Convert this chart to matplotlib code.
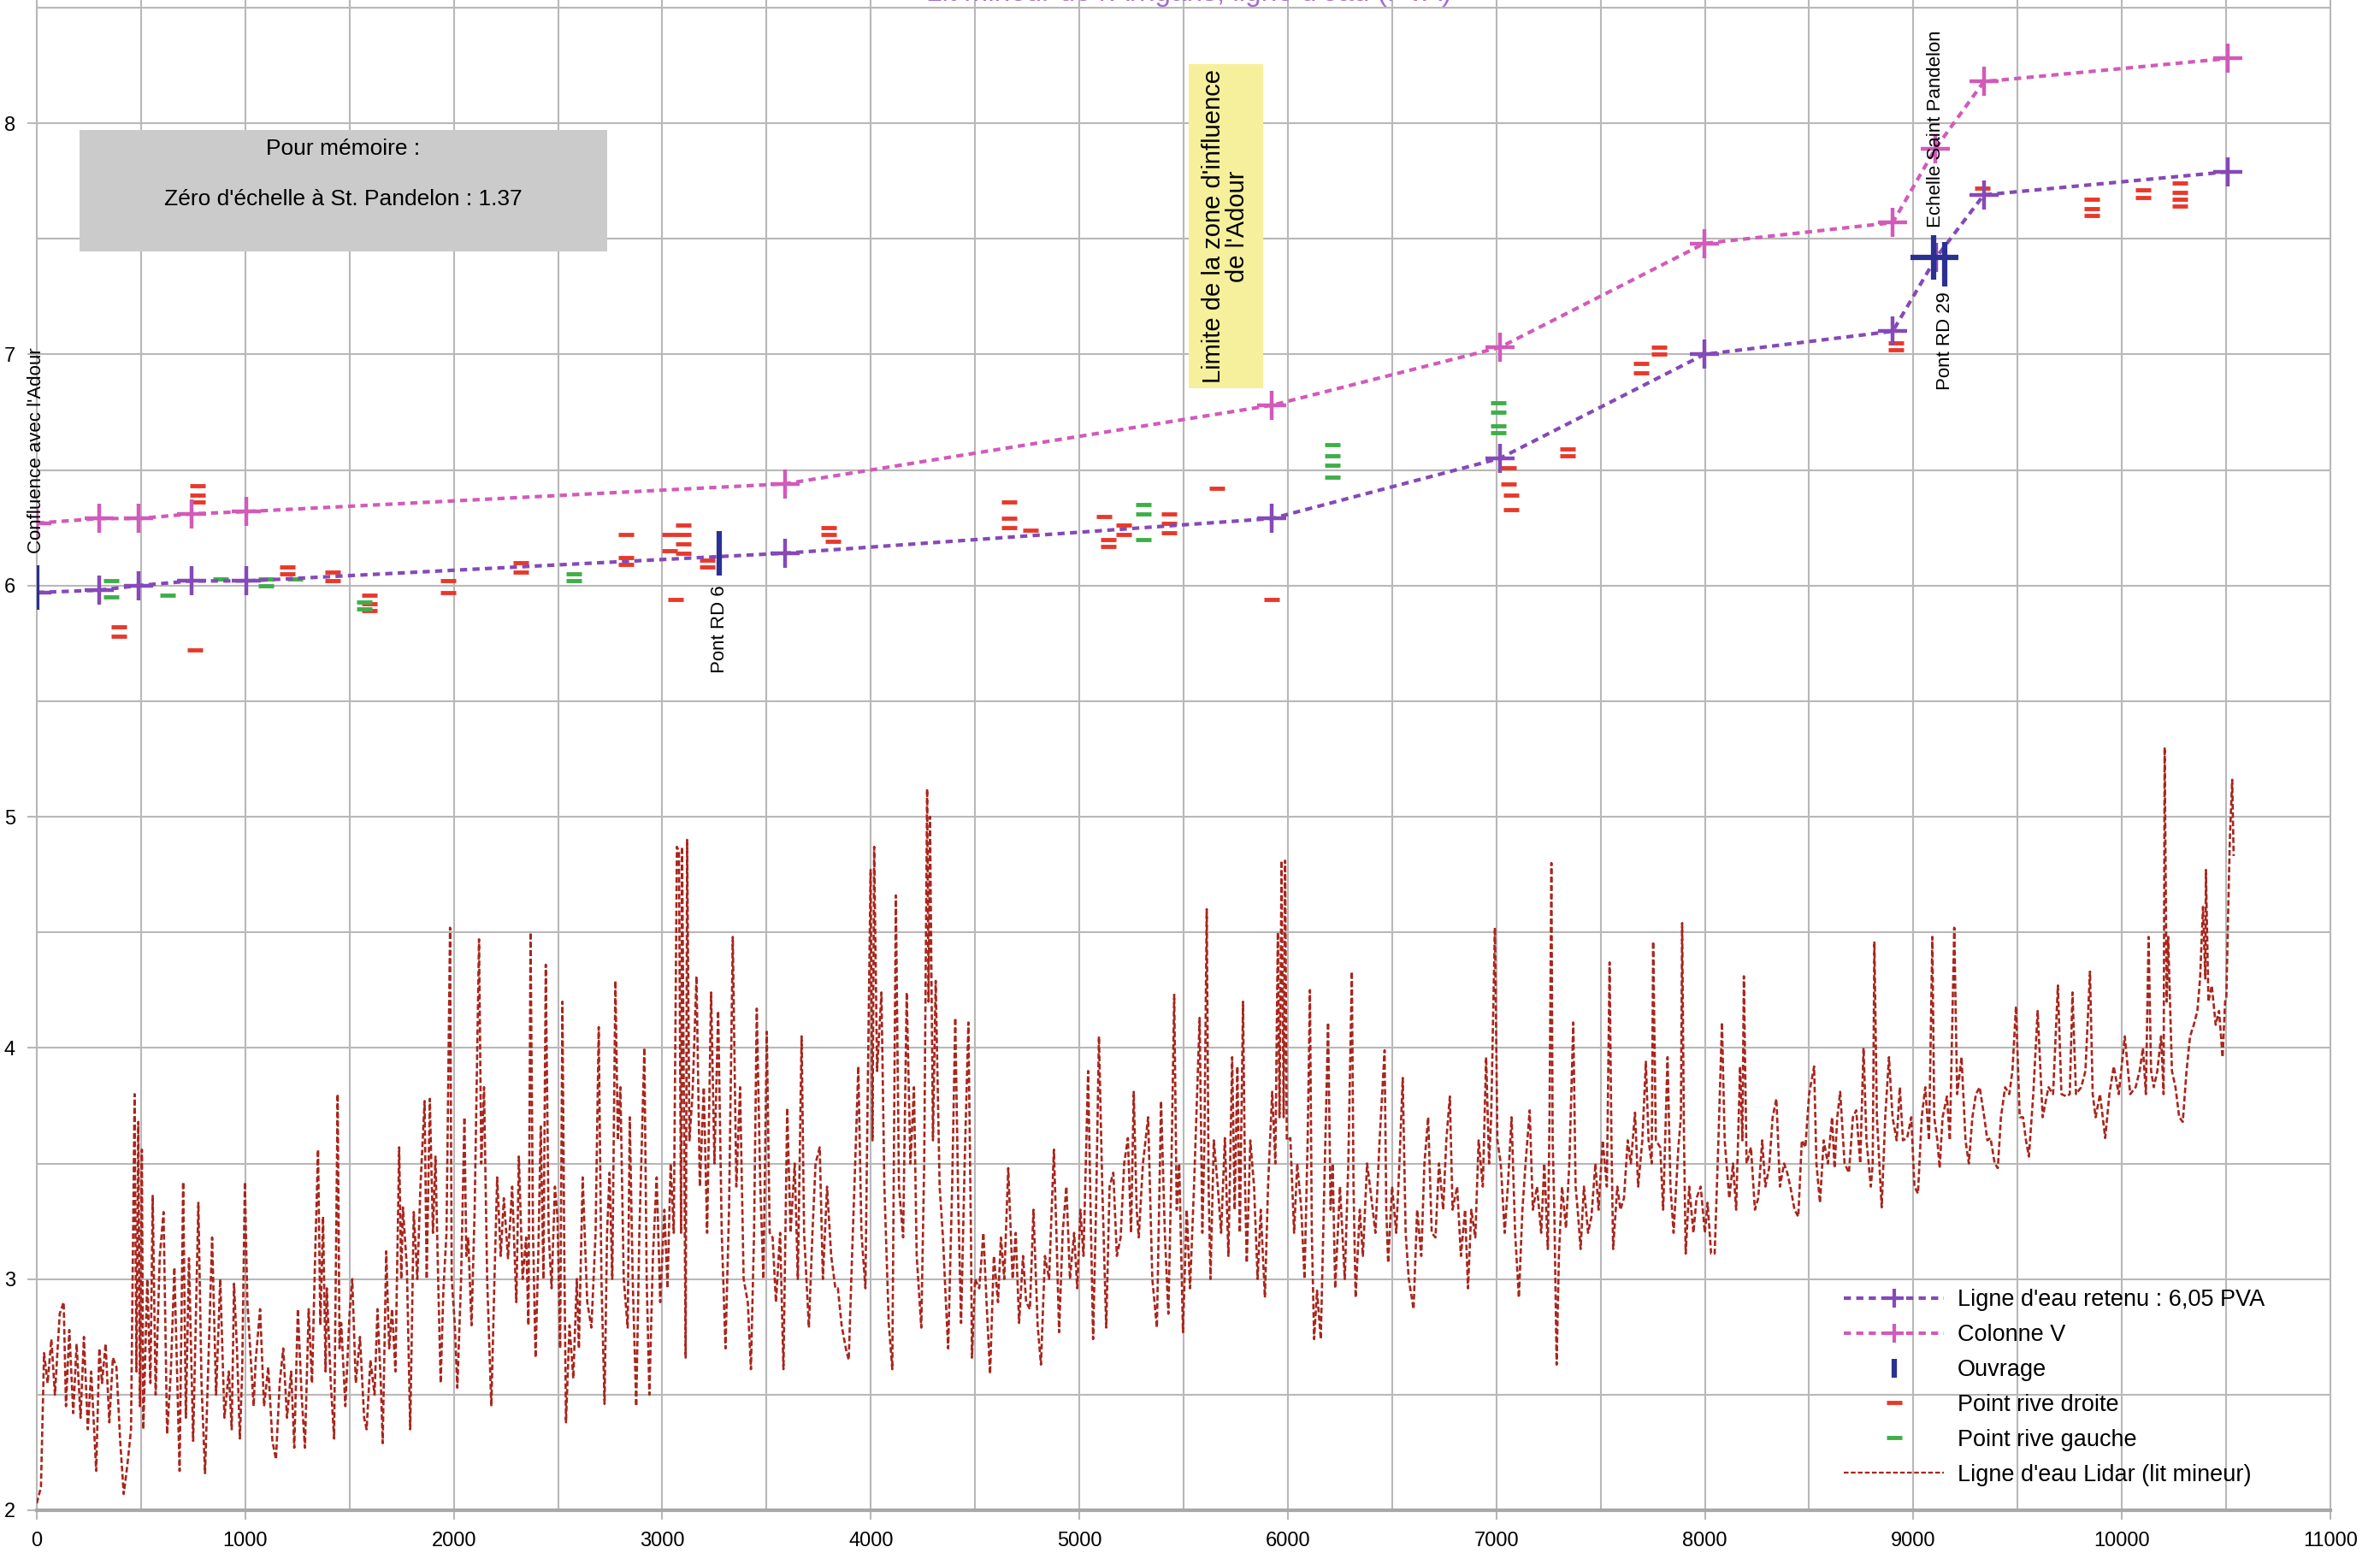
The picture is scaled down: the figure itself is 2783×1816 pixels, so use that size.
import matplotlib.pyplot as plt
from matplotlib.lines import Line2D
from matplotlib.patches import Rectangle
from matplotlib.ticker import MultipleLocator

plt.rcParams['font.family'] = ['Liberation Sans', 'DejaVu Sans']

# ligne d'eau retenue et colonne V
ret_x = [0, 298, 488, 742, 1004, 3588, 5924, 7016, 7998, 8901, 9110, 9338, 10509]
ret_y = [5.97, 5.98, 6.00, 6.02, 6.02, 6.14, 6.29, 6.55, 7.00, 7.10, 7.42, 7.69, 7.79]
colv_x = [0, 298, 488, 742, 1004, 3588, 5924, 7016, 7998, 8901, 9105, 9338, 10509]
colv_y = [6.27, 6.29, 6.29, 6.31, 6.32, 6.44, 6.78, 7.03, 7.48, 7.57, 7.89, 8.18, 8.28]

# ouvrages
ouv_x = [0, 3273, 9098, 9151]
ouv_y = [5.99, 6.14, 7.42, 7.39]
echelle_x = [9102]
echelle_y = [7.42]

# points rive droite / rive gauche
rd_x = [393, 393, 757, 771, 771, 771, 1200, 1200, 1419, 1419, 1594, 1594, 1594,
        1972, 1972, 2322, 2322, 2824, 2824, 2824, 3035, 3035, 3064, 3100, 3100,
        3100, 3100, 3217, 3217, 3799, 3799, 3820, 4665, 4665, 4665, 4767, 5120,
        5140, 5140, 5211, 5211, 5429, 5429, 5429, 5662, 5924, 7060, 7060, 7070,
        7070, 7343, 7343, 7693, 7693, 7780, 7780, 8916, 8916, 9330, 9855, 9855,
        9855, 10102, 10102, 10277, 10277, 10277, 10277]
rd_y = [5.82, 5.78, 5.72, 6.43, 6.39, 6.36, 6.08, 6.05, 6.06, 6.02, 5.96, 5.92, 5.89,
        6.02, 5.97, 6.10, 6.06, 6.22, 6.12, 6.09, 6.22, 6.15, 5.94, 6.26, 6.22,
        6.18, 6.14, 6.11, 6.08, 6.25, 6.22, 6.19, 6.36, 6.29, 6.25, 6.24, 6.30,
        6.20, 6.17, 6.26, 6.22, 6.31, 6.27, 6.23, 6.42, 5.94, 6.51, 6.44, 6.39,
        6.33, 6.59, 6.56, 6.96, 6.92, 7.03, 7.00, 7.05, 7.02, 7.72, 7.67, 7.63,
        7.60, 7.71, 7.68, 7.74, 7.70, 7.67, 7.64]
rg_x = [357, 357, 626, 881, 1099, 1099, 1237, 1572, 1572, 2576, 2576, 5306, 5306,
        5306, 6215, 6215, 6215, 6215, 7009, 7009, 7009, 7009]
rg_y = [6.02, 5.95, 5.96, 6.03, 6.03, 6.00, 6.03, 5.93, 5.90, 6.05, 6.02, 6.35, 6.31,
        6.20, 6.61, 6.56, 6.52, 6.47, 6.79, 6.75, 6.69, 6.66]

# ligne d'eau Lidar (lit mineur)
lidar = [
    (0, 2.03), (20, 2.10), (35, 2.68), (52, 2.55), (70, 2.74), (87, 2.50), (110, 2.85),
    (129, 2.90), (140, 2.45), (156, 2.78), (175, 2.42), (191, 2.72), (210, 2.40),
    (226, 2.75), (245, 2.35), (261, 2.60), (285, 2.17), (300, 2.70), (313, 2.55),
    (330, 2.72), (348, 2.38), (365, 2.66), (382, 2.62), (400, 2.30), (417, 2.07),
    (435, 2.20), (452, 2.35), (469, 3.80), (478, 2.60), (487, 3.68), (495, 2.45),
    (504, 3.56), (511, 2.35), (530, 3.00), (545, 2.55), (556, 3.36), (570, 2.50),
    (590, 3.10), (608, 3.29), (625, 2.33), (643, 2.60), (660, 3.05), (685, 2.17),
    (702, 3.42), (715, 2.40), (730, 3.09), (750, 2.30), (775, 3.33), (790, 2.55),
    (807, 2.16), (825, 2.70), (841, 3.18), (860, 2.50), (880, 3.00), (900, 2.40),
    (921, 2.60), (935, 2.35), (946, 2.98), (960, 2.70), (974, 2.31), (985, 2.60),
    (998, 3.42), (1010, 2.90), (1026, 2.66), (1040, 2.45), (1050, 2.65), (1071, 2.87),
    (1090, 2.45), (1110, 2.62), (1130, 2.30), (1147, 2.22), (1165, 2.55), (1182, 2.70),
    (1200, 2.40), (1220, 2.60), (1235, 2.27), (1252, 2.87), (1270, 2.50), (1286, 2.27),
    (1304, 2.87), (1320, 2.55), (1335, 3.10), (1349, 3.56), (1360, 2.80), (1373, 3.27),
    (1385, 2.60), (1391, 2.96), (1410, 2.55), (1426, 2.31), (1443, 3.80), (1452, 2.70),
    (1460, 2.81), (1480, 2.45), (1500, 2.85), (1513, 3.00), (1530, 2.55), (1550, 2.75),
    (1570, 2.40), (1582, 2.35), (1600, 2.65), (1620, 2.50), (1634, 2.87), (1650, 2.55),
    (1659, 2.29), (1676, 3.12), (1690, 2.70), (1704, 2.87), (1720, 2.60), (1738, 3.57),
    (1748, 3.00), (1756, 3.31), (1775, 3.05), (1791, 2.35), (1808, 3.29), (1825, 3.00),
    (1840, 3.40), (1860, 3.77), (1870, 3.00), (1885, 3.78), (1900, 3.20), (1912, 3.53),
    (1925, 3.00), (1937, 2.55), (1950, 2.95), (1965, 3.20), (1982, 4.52), (1990, 3.00),
    (2005, 2.80), (2017, 2.53), (2035, 3.00), (2051, 3.70), (2060, 3.10), (2069, 3.18),
    (2085, 2.80), (2100, 3.30), (2121, 4.47), (2132, 3.50), (2145, 3.83), (2160, 3.00),
    (2180, 2.45), (2195, 3.00), (2208, 3.44), (2225, 3.10), (2240, 3.35), (2260, 3.09),
    (2280, 3.40), (2300, 2.90), (2312, 3.53), (2330, 3.00), (2347, 3.18), (2358, 2.80),
    (2368, 4.50), (2380, 3.20), (2392, 2.66), (2405, 3.10), (2417, 3.66), (2430, 3.00),
    (2441, 4.36), (2455, 3.20), (2469, 2.96), (2485, 3.40), (2497, 3.27), (2510, 2.70),
    (2521, 4.20), (2530, 3.10), (2538, 2.38), (2555, 2.80), (2573, 2.57), (2590, 3.00),
    (2600, 2.70), (2618, 3.44), (2640, 2.90), (2660, 2.79), (2680, 3.20), (2695, 4.09),
    (2708, 3.00), (2723, 2.46), (2735, 3.20), (2747, 3.46), (2760, 3.00), (2775, 4.29),
    (2787, 3.60), (2799, 3.83), (2815, 3.00), (2834, 2.79), (2844, 3.70), (2858, 3.00),
    (2875, 2.45), (2890, 3.20), (2914, 4.00), (2925, 3.00), (2938, 2.50), (2955, 3.10),
    (2973, 3.44), (2990, 2.90), (3010, 3.30), (3025, 2.96), (3040, 3.50), (3055, 3.20),
    (3070, 4.87), (3080, 4.85), (3090, 3.20), (3095, 4.87), (3105, 3.60), (3112, 2.66),
    (3119, 4.90), (3130, 3.60), (3145, 3.80), (3164, 4.31), (3180, 3.40), (3199, 3.83),
    (3215, 3.20), (3234, 4.24), (3250, 3.50), (3268, 4.16), (3285, 3.20), (3303, 2.70),
    (3320, 3.30), (3338, 4.48), (3355, 3.40), (3373, 3.83), (3390, 3.00), (3410, 2.90),
    (3425, 2.61), (3440, 3.20), (3453, 4.17), (3470, 3.40), (3485, 3.00), (3501, 4.07),
    (3515, 3.20), (3529, 3.18), (3545, 2.90), (3565, 3.20), (3581, 2.61), (3599, 3.74),
    (3615, 3.20), (3635, 3.50), (3650, 3.00), (3668, 4.05), (3680, 3.20), (3703, 2.79),
    (3720, 3.20), (3735, 3.50), (3755, 3.57), (3770, 3.00), (3790, 3.40), (3810, 3.10),
    (3830, 2.96), (3842, 2.96), (3860, 2.80), (3880, 2.70), (3894, 2.65), (3910, 3.10),
    (3925, 3.50), (3940, 3.92), (3955, 3.20), (3974, 2.96), (3985, 3.80), (3999, 4.77),
    (4008, 3.60), (4016, 4.87), (4030, 3.90), (4051, 4.24), (4065, 3.40), (4086, 2.81),
    (4103, 2.61), (4120, 4.66), (4135, 3.40), (4155, 3.18), (4172, 4.24), (4190, 3.50),
    (4207, 3.83), (4220, 3.10), (4242, 2.79), (4256, 3.50), (4270, 5.12), (4277, 4.20),
    (4284, 5.00), (4298, 3.60), (4311, 4.29), (4330, 3.40), (4346, 3.18), (4360, 2.90),
    (4371, 2.70), (4390, 3.40), (4405, 4.13), (4420, 3.30), (4433, 2.81), (4450, 3.50),
    (4468, 4.11), (4480, 3.20), (4485, 2.66), (4500, 3.00), (4520, 2.96), (4540, 3.20),
    (4555, 2.90), (4572, 2.59), (4590, 3.10), (4610, 2.90), (4624, 3.18), (4640, 3.00),
    (4659, 3.48), (4680, 3.00), (4695, 3.20), (4711, 2.81), (4730, 3.10), (4745, 2.90),
    (4763, 2.87), (4780, 3.30), (4800, 2.80), (4816, 2.63), (4835, 3.10), (4855, 3.00),
    (4878, 3.56), (4890, 3.20), (4903, 2.77), (4920, 3.20), (4938, 3.40), (4955, 3.00),
    (4975, 3.20), (4990, 2.96), (5005, 3.30), (5020, 3.10), (5042, 3.90), (5054, 3.30),
    (5066, 2.74), (5080, 3.30), (5094, 4.05), (5110, 3.40), (5129, 2.79), (5145, 3.40),
    (5163, 3.46), (5180, 3.10), (5198, 3.18), (5215, 3.50), (5233, 3.61), (5248, 3.20),
    (5261, 3.81), (5275, 3.30), (5285, 3.18), (5305, 3.50), (5330, 3.70), (5350, 3.00),
    (5372, 2.79), (5392, 3.77), (5410, 3.20), (5427, 2.85), (5440, 3.40), (5455, 4.23),
    (5467, 3.30), (5479, 3.50), (5497, 2.77), (5515, 3.30), (5531, 2.96), (5550, 3.40),
    (5577, 4.13), (5590, 3.20), (5600, 3.60), (5611, 4.60), (5620, 3.40), (5629, 3.00),
    (5645, 3.60), (5664, 3.40), (5680, 3.20), (5698, 3.61), (5715, 3.10), (5733, 3.96),
    (5745, 3.30), (5758, 3.92), (5770, 3.20), (5785, 4.20), (5795, 3.40), (5803, 3.07),
    (5820, 3.60), (5838, 3.40), (5855, 3.00), (5870, 3.30), (5890, 2.92), (5905, 3.40),
    (5925, 3.81), (5940, 3.50), (5952, 4.50), (5960, 3.70), (5970, 4.81), (5980, 3.70),
    (5987, 4.81), (5995, 3.60), (6012, 3.61), (6030, 3.20), (6045, 3.50), (6064, 3.31),
    (6080, 3.00), (6095, 3.60), (6106, 4.25), (6115, 3.20), (6126, 2.74), (6140, 2.95),
    (6158, 2.74), (6175, 3.40), (6193, 4.11), (6205, 3.30), (6215, 3.50), (6227, 2.96),
    (6250, 3.40), (6273, 3.00), (6290, 3.50), (6307, 4.33), (6315, 3.40), (6325, 2.92),
    (6345, 3.30), (6360, 3.10), (6380, 3.50), (6394, 3.40), (6420, 3.20), (6440, 3.60),
    (6464, 3.99), (6472, 3.30), (6481, 3.07), (6500, 3.40), (6520, 3.20), (6535, 3.50),
    (6551, 3.87), (6565, 3.20), (6580, 3.00), (6603, 2.87), (6620, 3.30), (6640, 3.10),
    (6655, 3.50), (6673, 3.70), (6690, 3.20), (6708, 3.18), (6725, 3.50), (6745, 3.30),
    (6760, 3.60), (6777, 3.79), (6790, 3.30), (6812, 3.40), (6830, 3.10), (6850, 3.30),
    (6864, 2.96), (6880, 3.30), (6899, 3.18), (6915, 3.60), (6935, 3.40), (6951, 3.96),
    (6965, 3.50), (6975, 3.70), (6993, 4.52), (7005, 3.60), (7021, 3.50), (7040, 3.20),
    (7055, 3.40), (7073, 3.70), (7090, 3.20), (7108, 2.92), (7125, 3.30), (7140, 3.50),
    (7160, 3.73), (7175, 3.30), (7195, 3.40), (7215, 3.20), (7230, 3.50), (7247, 3.13),
    (7255, 3.70), (7264, 4.80), (7270, 3.60), (7278, 3.30), (7289, 2.63), (7300, 3.10),
    (7315, 3.40), (7334, 3.22), (7350, 3.50), (7369, 4.11), (7380, 3.40), (7390, 3.30),
    (7404, 3.13), (7420, 3.40), (7440, 3.20), (7456, 3.27), (7475, 3.50), (7490, 3.30),
    (7510, 3.60), (7530, 3.40), (7543, 4.37), (7552, 3.60), (7560, 3.13), (7580, 3.40),
    (7595, 3.30), (7612, 3.35), (7630, 3.60), (7645, 3.50), (7665, 3.72), (7680, 3.40),
    (7700, 3.60), (7717, 3.94), (7730, 3.60), (7745, 3.50), (7752, 4.46), (7765, 3.60),
    (7786, 3.57), (7800, 3.30), (7821, 3.96), (7835, 3.40), (7850, 3.20), (7873, 3.57),
    (7885, 3.70), (7891, 4.54), (7900, 3.60), (7908, 3.11), (7925, 3.40), (7945, 3.20),
    (7960, 3.35), (7980, 3.40), (8000, 3.20), (8013, 3.33), (8030, 3.11), (8047, 3.11),
    (8065, 3.60), (8082, 4.11), (8095, 3.60), (8117, 3.35), (8135, 3.50), (8150, 3.30),
    (8169, 3.92), (8180, 3.60), (8187, 4.31), (8200, 3.50), (8221, 3.57), (8240, 3.30),
    (8256, 3.35), (8275, 3.60), (8290, 3.40), (8308, 3.48), (8325, 3.70), (8343, 3.78),
    (8360, 3.40), (8380, 3.50), (8395, 3.46), (8410, 3.40), (8430, 3.30), (8448, 3.27),
    (8465, 3.60), (8482, 3.57), (8500, 3.80), (8524, 3.92), (8535, 3.50), (8552, 3.33),
    (8570, 3.60), (8590, 3.50), (8610, 3.70), (8622, 3.48), (8635, 3.70), (8649, 3.81),
    (8670, 3.50), (8691, 3.46), (8710, 3.70), (8726, 3.73), (8745, 3.50), (8761, 4.00),
    (8775, 3.60), (8796, 3.40), (8805, 3.50), (8813, 4.46), (8825, 3.70), (8848, 3.31),
    (8865, 3.70), (8883, 3.96), (8900, 3.70), (8920, 3.60), (8935, 3.83), (8950, 3.60),
    (8970, 3.61), (8990, 3.70), (9005, 3.40), (9022, 3.37), (9040, 3.70), (9057, 3.83),
    (9075, 3.60), (9091, 4.48), (9100, 3.70), (9115, 3.60), (9126, 3.48), (9140, 3.70),
    (9161, 3.79), (9175, 3.60), (9196, 4.52), (9210, 3.80), (9231, 3.96), (9250, 3.60),
    (9266, 3.50), (9283, 3.70), (9300, 3.80), (9318, 3.83), (9340, 3.70), (9355, 3.60),
    (9370, 3.61), (9390, 3.50), (9405, 3.48), (9420, 3.70), (9440, 3.83), (9460, 3.80),
    (9475, 3.90), (9492, 4.18), (9510, 3.70), (9526, 3.70), (9540, 3.60), (9554, 3.53),
    (9575, 3.80), (9596, 4.16), (9620, 3.70), (9648, 3.83), (9670, 3.80), (9693, 4.27),
    (9710, 3.80), (9735, 3.79), (9750, 3.80), (9763, 4.24), (9780, 3.80), (9805, 3.83),
    (9825, 3.90), (9847, 4.33), (9860, 3.80), (9874, 3.70), (9895, 3.80), (9920, 3.61),
    (9940, 3.80), (9961, 3.92), (9985, 3.80), (10014, 4.05), (10040, 3.80), (10066, 3.83),
    (10085, 3.90), (10101, 4.00), (10115, 3.80), (10128, 4.48), (10140, 3.90), (10153, 3.83),
    (10170, 3.90), (10188, 4.05), (10200, 3.80), (10205, 5.30), (10215, 4.20), (10222, 4.48),
    (10240, 3.90), (10257, 3.83), (10275, 3.70), (10292, 3.68), (10310, 3.90), (10327, 4.05),
    (10345, 4.10), (10362, 4.16), (10375, 4.30), (10389, 4.61), (10400, 4.30), (10403, 4.77),
    (10415, 4.20), (10431, 4.27), (10450, 4.10), (10466, 4.16), (10483, 3.96), (10495, 4.20),
    (10501, 4.22), (10510, 4.60), (10518, 4.91), (10529, 5.16), (10536, 4.83),
]
lidar_x = [p[0] for p in lidar]
lidar_y = [p[1] for p in lidar]

c_ret = '#8549b8'
c_colv = '#d25ab9'
c_ouv = '#2b3192'
c_rd = '#e8392b'
c_rg = '#3fae49'
c_lidar = '#a8261d'
c_grid = '#b8b8b8'

fig = plt.figure(figsize=(27.83, 18.16), dpi=100)
ax = fig.add_axes([43 / 2783, 50 / 1816, (2725 - 43) / 2783, 1766 / 1816])

ax.plot(lidar_x, lidar_y, color=c_lidar, lw=1.9, ls=(0, (2.5, 1.2)), zorder=3)
ax.plot(rd_x, rd_y, ls='none', marker='_', ms=13, mew=3.5, color=c_rd, zorder=4)
ax.plot(rg_x, rg_y, ls='none', marker='_', ms=13, mew=3.5, color=c_rg, zorder=4)
ax.plot(colv_x, colv_y, color=c_colv, lw=3, ls=(0, (2, 1.5)), marker='+',
        ms=24, mew=3.2, zorder=5)
ax.plot(ret_x, ret_y, color=c_ret, lw=3, ls=(0, (2, 1.5)), marker='+',
        ms=24, mew=3.2, zorder=5)
ax.plot(ouv_x, ouv_y, ls='none', marker='|', ms=38, mew=4.5, color=c_ouv, zorder=6)
ax.plot(echelle_x, echelle_y, ls='none', marker='_', ms=40, mew=4.5, color=c_ouv, zorder=6)

# cadres de texte
ax.add_patch(Rectangle((205, 7.445), 2531, 0.525, facecolor='#cbcbcb',
                       edgecolor='none', zorder=7))
ax.text(1470, 7.935, "Pour mémoire :", ha='center', va='top', fontsize=19, zorder=8)
ax.text(1470, 7.67, "Zéro d'échelle à St. Pandelon : 1.37", ha='center', va='center',
        fontsize=19, zorder=8)

ax.add_patch(Rectangle((5525, 6.853), 357, 1.402, facecolor='#f6ef9c',
                       edgecolor='none', zorder=7))
ax.text(5703, 7.554, "Limite de la zone d'influence\nde l'Adour", rotation=90,
        ha='center', va='center', multialignment='center', fontsize=21,
        linespacing=1.0, zorder=8)

ax.text(0, 6.14, "Confluence avec l'Adour", rotation=90, ha='center', va='bottom',
        fontsize=16, zorder=8)
ax.text(3273, 6.0, "Pont RD 6", rotation=90, ha='center', va='top', fontsize=16, zorder=8)
ax.text(9151, 7.27, "Pont RD 29", rotation=90, ha='center', va='top', fontsize=16, zorder=8)
ax.text(9106, 7.55, "Echelle Saint Pandelon", rotation=90, ha='center', va='bottom',
        fontsize=16, zorder=8)

fig.text(0.4995, 1.004, "Lit mineur de l'Arrigans, ligne d'eau (PVA)", ha='center',
         va='center', color='#a56cc8', fontsize=24)

ax.set_xlim(0, 11000)
ax.set_ylim(2, 8.533)
ax.xaxis.set_major_locator(MultipleLocator(1000))
ax.xaxis.set_minor_locator(MultipleLocator(500))
ax.yaxis.set_major_locator(MultipleLocator(1))
ax.yaxis.set_minor_locator(MultipleLocator(0.5))
ax.grid(True, which='both', color=c_grid, lw=1.5, zorder=0)
ax.set_axisbelow(True)
ax.tick_params(which='major', labelsize=17, length=8, width=1.5, color=c_grid, pad=10)
ax.tick_params(which='minor', length=0)
ax.spines['top'].set_visible(False)
ax.spines['right'].set_color(c_grid)
ax.spines['left'].set_color(c_grid)
ax.spines['left'].set_linewidth(1.5)
ax.spines['bottom'].set_color('#a8a8a8')
ax.spines['bottom'].set_linewidth(3)

handles = [
    Line2D([], [], color=c_ret, lw=3, ls=(0, (2, 1.5)), marker='+', ms=16, mew=3),
    Line2D([], [], color=c_colv, lw=3, ls=(0, (2, 1.5)), marker='+', ms=16, mew=3),
    Line2D([], [], ls='none', marker='|', ms=16, mew=4.5, color=c_ouv),
    Line2D([], [], ls='none', marker='_', ms=13, mew=3.5, color=c_rd),
    Line2D([], [], ls='none', marker='_', ms=13, mew=3.5, color=c_rg),
    Line2D([], [], color=c_lidar, lw=1.6, ls=(0, (2.5, 1.2))),
]
labels = ["Ligne d'eau retenu : 6,05 PVA", "Colonne V", "Ouvrage",
          "Point rive droite", "Point rive gauche", "Ligne d'eau Lidar (lit mineur)"]
leg = ax.legend(handles, labels, loc='lower left', bbox_to_anchor=(0.788, 0.016),
                frameon=False, fontsize=19.5, handlelength=4.3, handletextpad=0.6,
                labelspacing=0.55, borderpad=0, borderaxespad=0)
leg.set_zorder(9)

fig.savefig('out.png', dpi=100)
